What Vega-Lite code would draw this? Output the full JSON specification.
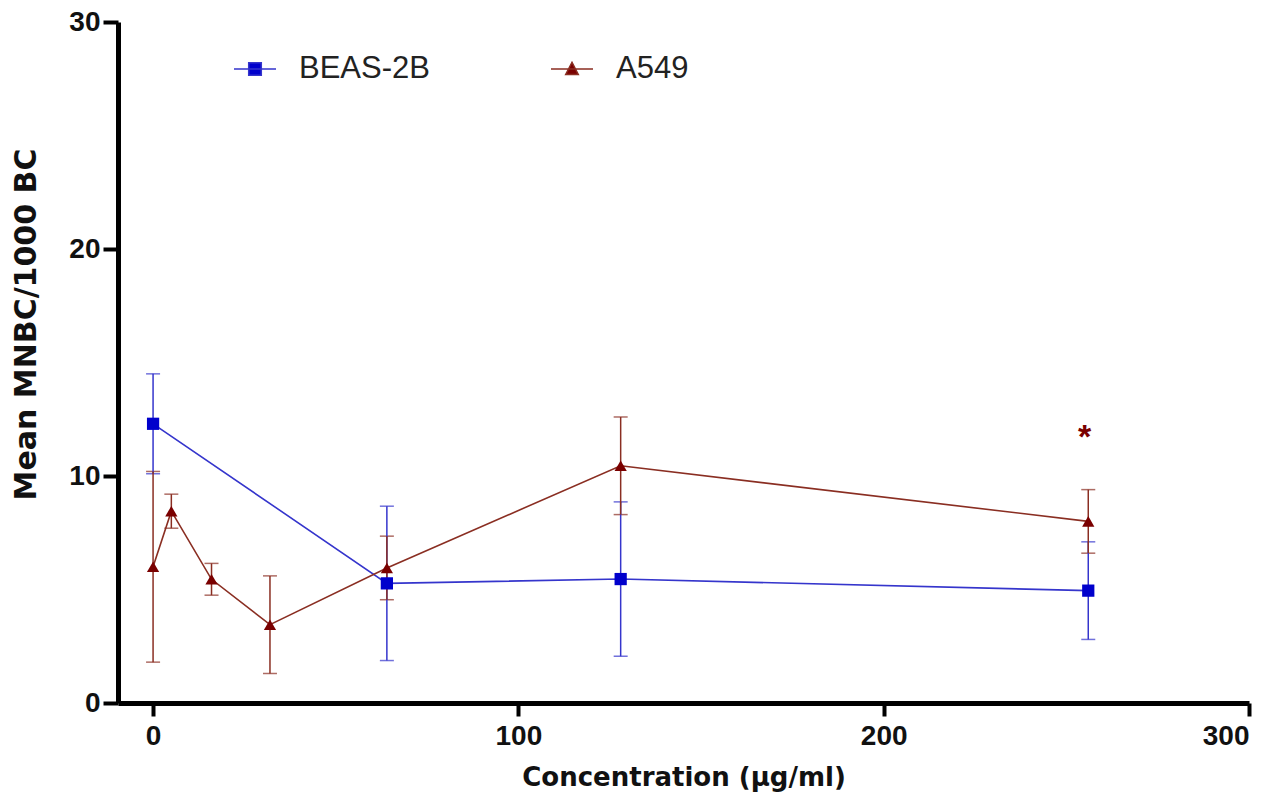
{
  "$schema": "https://vega.github.io/schema/vega-lite/v6.json",
  "width": 1131,
  "height": 681,
  "autosize": {"type": "none"},
  "padding": {"left": 118, "top": 22, "right": 29, "bottom": 98},
  "background": "white",
  "config": {
    "view": {"stroke": null},
    "font": "Liberation Sans",
    "axis": {
      "grid": false,
      "domainColor": "black",
      "domainWidth": 5,
      "tickColor": "black",
      "tickWidth": 4,
      "tickSize": 13,
      "labelFont": "Liberation Sans",
      "labelFontWeight": "bold",
      "labelFontSize": 28,
      "labelColor": "#111",
      "titleFont": "DejaVu Sans",
      "titleFontWeight": "bold",
      "titleColor": "#111"
    }
  },
  "datasets": {
    "main": [
      {"series": "BEAS-2B", "conc": 0, "mean": 12.3, "sd": 2.2},
      {"series": "BEAS-2B", "conc": 64, "mean": 5.27, "sd": 3.4},
      {"series": "BEAS-2B", "conc": 128, "mean": 5.46, "sd": 3.4},
      {"series": "BEAS-2B", "conc": 256, "mean": 4.95, "sd": 2.15},
      {"series": "A549", "conc": 0, "mean": 6.0, "sd": 4.2},
      {"series": "A549", "conc": 5, "mean": 8.45, "sd": 0.75},
      {"series": "A549", "conc": 16, "mean": 5.45, "sd": 0.7},
      {"series": "A549", "conc": 32, "mean": 3.45, "sd": 2.15},
      {"series": "A549", "conc": 64, "mean": 5.95, "sd": 1.4},
      {"series": "A549", "conc": 128, "mean": 10.45, "sd": 2.15},
      {"series": "A549", "conc": 256, "mean": 8.0, "sd": 1.4}
    ],
    "star": [{"conc": 255, "y": 11.25, "label": "*"}]
  },
  "resolve": {"scale": {"shape": "independent"}},
  "layer": [
    {
      "data": {"name": "main"},
      "mark": {"type": "line", "strokeWidth": 1.6},
      "encoding": {
        "x": {"field": "conc", "type": "quantitative", "scale": {"domain": [-9.6, 300], "nice": false, "zero": false},
              "axis": {"values": [0, 100, 200, 300], "title": "Concentration (µg/ml)", "titleFontSize": 26, "titlePadding": 14, "labelPadding": 6}},
        "y": {"field": "mean", "type": "quantitative", "scale": {"domain": [0, 30], "nice": false},
              "axis": {"values": [0, 10, 20, 30], "title": "Mean MNBC/1000 BC", "titleFontSize": 30, "titlePadding": 27, "titleY": 302, "labelPadding": 3, "tickSize": 15}},
        "color": {"field": "series", "type": "nominal", "scale": {"domain": ["BEAS-2B", "A549"], "range": ["#3535cc", "#8a2e22"]}, "legend": null},
        "detail": {"field": "series"}
      }
    },
    {
      "data": {"name": "main"},
      "mark": {"type": "errorbar", "ticks": {"size": 14, "thickness": 1.5}, "rule": {"strokeWidth": 1.5}},
      "encoding": {
        "x": {"field": "conc", "type": "quantitative"},
        "y": {"field": "mean", "type": "quantitative", "title": "Mean MNBC/1000 BC"},
        "yError": {"field": "sd"},
        "color": {"field": "series", "type": "nominal", "legend": null}
      }
    },
    {
      "data": {"name": "main"},
      "transform": [{"filter": "datum.series == 'BEAS-2B'"}],
      "mark": {"type": "point", "shape": "square", "filled": true, "size": 150, "opacity": 1, "color": "#0000cc"},
      "encoding": {
        "x": {"field": "conc", "type": "quantitative"},
        "y": {"field": "mean", "type": "quantitative", "title": "Mean MNBC/1000 BC"}
      }
    },
    {
      "data": {"name": "main"},
      "transform": [{"filter": "datum.series == 'A549'"}],
      "mark": {"type": "point", "shape": "triangle-up", "filled": true, "size": 150, "opacity": 1, "color": "#7a0000"},
      "encoding": {
        "x": {"field": "conc", "type": "quantitative"},
        "y": {"field": "mean", "type": "quantitative", "title": "Mean MNBC/1000 BC"}
      }
    },
    {
      "data": {"name": "main"},
      "transform": [{"filter": "datum.series == 'none'"}],
      "mark": {"type": "point", "filled": true, "strokeWidth": 1.5,
               "fill": {"expr": "datum.value == 'BEAS-2B' ? '#0000cc' : '#7a0000'"},
               "stroke": {"expr": "datum.value == 'BEAS-2B' ? '#3535cc' : '#8a2e22'"}},
      "encoding": {
        "x": {"field": "conc", "type": "quantitative"},
        "y": {"field": "mean", "type": "quantitative", "title": "Mean MNBC/1000 BC"},
        "shape": {"field": "series", "type": "nominal",
                  "scale": {"domain": ["BEAS-2B", "A549"], "range": ["M-1,0H1M-0.3,-0.3H0.3V0.3H-0.3Z", "M-1,0H1M0,-0.32L0.3,0.26H-0.3Z"]},
                  "legend": {"title": null, "orient": "none", "legendX": 115, "legendY": 25, "direction": "horizontal",
                             "symbolSize": 1764, "symbolStrokeWidth": 1.5, "labelFontSize": 31, "labelFont": "Liberation Sans",
                             "labelColor": "#222", "labelOffset": 22, "columnPadding": 118, "symbolOpacity": 1}}
      }
    },
    {
      "data": {"name": "star"},
      "mark": {"type": "text", "fontSize": 34, "fontWeight": "bold", "color": "#7a0000", "baseline": "alphabetic", "align": "center"},
      "encoding": {
        "x": {"field": "conc", "type": "quantitative"},
        "y": {"field": "y", "type": "quantitative"},
        "text": {"field": "label"}
      }
    }
  ]
}
